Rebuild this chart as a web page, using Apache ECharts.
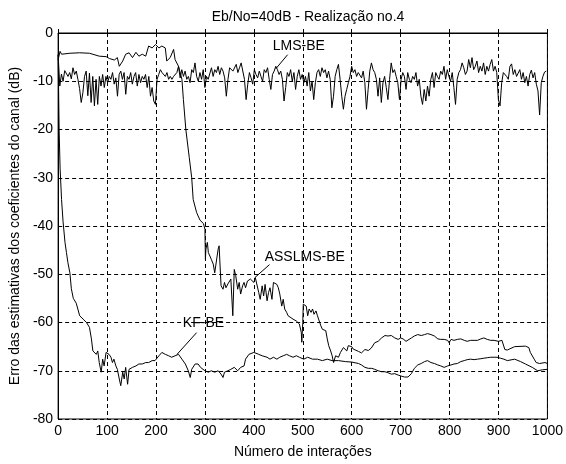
<!DOCTYPE html>
<html>
<head>
<meta charset="utf-8">
<script src="https://cdn.jsdelivr.net/npm/echarts@6/dist/echarts.min.js"></script>
<style>
html, body { margin: 0; padding: 0; background: #fff; }
#chart { width: 566px; height: 464px; }
</style>
</head>
<body>
<div id="chart"></div>
<script>
var titleText = 'Eb/No=40dB - Realização no.4';
var xName = 'Número de interações';
var yName = 'Erro das estimativas dos coeficientes do canal (dB)';

// LMS-BE: at a regular spacing of 3.37 iterations
var lmsStep = 3.37;
var lmsDb = [-4.5,
  -11, -8.5, -10, -7.8, -7.5, -9, -8.2, -9.5, -7.2, -8.6,
  -7.9, -9.6, -11.5, -14.4, -12.4, -9, -7.9, -13, -8.3, -14.4,
  -9, -15.1, -9.6, -14.8, -9, -11, -8.6, -11.3, -9, -10.3,
  -9, -9.6, -8.2, -10.6, -9.3, -13.1, -8.6, -7.9, -9.6, -8.2,
  -12.7, -9, -9.6, -8.2, -10.6, -9, -8.2, -11, -8.6, -10.3,
  -9, -9.6, -8.6, -11.3, -9, -13.1, -11.3, -14.1, -14.8, -9.6,
  -8.6, -7.6, -8.2, -7.9, -9, -8.2, -9.6, -9, -9.6, -9,
  -8.6, -8.2, -6.9, -9.3, -7.6, -9, -7.9, -9.6, -9, -10.3,
  -7.6, -8.2, -6.2, -9, -10, -8.2, -9.6, -7.6, -11.3, -9, -9.6,
  -9.6, -7.2, -9, -7.6, -8.2, -6.9, -8.6, -7.2, -7.9, -9.3,
  -13.1, -9.6, -7.2, -6.9, -7.9, -7.6, -6.5, -8.2, -7.2, -6.2,
  -5.8, -9.6, -13.8, -10.6, -8.2, -9.3, -10.6, -7.6, -8.6, -9.3,
  -7.9, -9, -10, -7.6, -8.2, -7.2, -9.6, -11.7, -8.6, -7.9,
  -6.9, -7.6, -8.6, -7.9, -9.6, -14.1, -11.3, -8.2, -9, -7.6,
  -10, -8.2, -11.7, -9, -7.6, -9.6, -8.6, -10.3, -9, -11,
  -8.2, -12, -10, -13.8, -10.3, -8.2, -7.6, -9, -7.2, -8.2,
  -7.6, -9.3, -7.9, -9.6, -15.5, -13.1, -9, -7.6, -6.5, -9.6,
  -13.1, -15.8, -13.1, -11.7, -10.3, -9, -6.9, -8.2, -7.6, -9, -8.2,
  -8.2, -9.3, -7.9, -10.3, -15.8, -11.7, -7.9, -6.2, -7.6, -8.2,
  -9.6, -13.1, -9.3, -14.4, -10.3, -9, -11.3, -13.8, -9.6, -6.2,
  -8.2, -7.6, -9, -10.3, -13.8, -9.6, -8.2, -9, -11.7, -8.2,
  -9.6, -10.3, -9, -9.6, -8.2, -11, -9.6, -13.1, -14.8, -11.7,
  -14.1, -11, -13.1, -9.6, -8.2, -11.3, -8.2, -9, -9.6, -7.9,
  -8.6, -6.9, -9.6, -7.6, -9, -10, -8.2, -11.3, -14.8, -9.6,
  -8.2, -7.6, -6.2, -7.2, -8.6, -7.9, -5.5, -7.2, -5.1, -7.6,
  -6.9, -5.8, -8.2, -6.9, -7.9, -6.2, -8.6, -6.9, -7.9, -6.5,
  -5.5, -7.9, -6.9, -8.2, -13.8, -15.1, -10.3, -8.2, -7.9, -9, -9.6,
  -6.9, -6.4, -8.6, -7.6, -9, -8.9, -7.6, -9.6, -8.2, -10.3,
  -9, -11, -8.6, -7.7, -9.3, -8.2, -10.6, -12, -17, -10.3,
  -9, -8.1, -7.9];

var asslmsIter = [0, 4, 7, 24, 44, 64, 84, 98, 105, 115, 121, 125, 132, 138, 145, 152, 159, 165, 172, 179,
  185, 192, 199, 206, 212, 219, 222, 229, 236, 239, 246, 253, 256, 261, 268, 273, 276, 283, 290, 297,
  300, 301, 302, 305, 307, 310, 313, 317, 320, 323, 327, 329, 331, 333, 337, 340, 343, 347, 353, 357,
  360, 363, 367, 370, 373, 377, 380, 383, 387, 393, 400, 403, 407, 410, 413, 417, 420, 423, 427, 430,
  433, 437, 440, 443, 447, 450, 453, 457, 460, 463, 467, 470, 473, 480, 487, 490, 493, 497, 498, 500,
  501, 507, 510, 513, 517, 520, 523, 527, 530, 533, 537, 540, 543, 547, 550, 553, 557, 560, 563, 567,
  570, 573, 577, 580, 583, 587, 590, 593, 597, 600, 603, 607, 614, 620, 627, 634, 640, 647, 654, 661,
  668, 674, 681, 688, 695, 700, 705, 711, 715, 722, 728, 735, 742, 749, 755, 762, 769, 776, 782, 789,
  796, 799, 803, 809, 816, 823, 830, 836, 843, 850, 857, 864, 870, 877, 884, 891, 900, 907, 911, 913,
  918, 922, 933, 955, 962, 965, 973, 977, 984, 995, 1000];
var asslmsDb = [-5.5, -3.8, -4.4, -4.2, -4.1, -4.2, -4.8, -4.9, -5.3, -5.6, -5.1, -6.9, -5.8, -4.4, -4.1, -5.1, -4.0, -4.8, -4.4, -4.8,
  -2.7, -3.1, -2.4, -3.1, -2.7, -3.1, -5.8, -5.1, -3.4, -5.5, -6.9, -9.6, -13.8, -20, -25.8, -30, -34.5, -37.2, -38.8, -39.5,
  -40.7, -46.9, -44.8, -43.4, -45.5, -45.2, -46.9, -47.9, -49.7, -50, -44.8, -44.1, -48.3, -52.4, -53.1, -51.7, -52.8, -52, -51, -58.6,
  -49, -50.3, -53.1, -51.7, -54.1, -52.4, -51.7, -52.8, -51.4, -51, -51.7, -50.7, -51, -53.8, -55.2, -52.4, -54.5, -52.1, -55.5, -53.8,
  -52.8, -55.2, -51.7, -51.4, -52.1, -52.8, -54.1, -56.6, -55.2, -57.2, -57.9, -58.6, -59, -59.3, -59.7, -60, -60.3, -62.1, -64.1, -60,
  -56.2, -56.6, -58.6, -57.2, -57.9, -57.2, -58.3, -57.6, -58.6, -59, -60.7, -61.4, -61, -61.7, -63.4, -64.8, -65.9, -66.9, -68.3, -66.9,
  -66.6, -67.2, -66.2, -65.9, -65.2, -65.5, -65.9, -64.8, -65.2, -65, -65.5, -65.2, -66, -66.3, -65.6, -65.8, -65.3, -64.2, -63.9, -63.2,
  -62.7, -62.8, -62.7, -63.2, -63.5, -63.2, -63.4, -63.9, -63.5, -63.2, -62.8, -62.5, -62.7, -62.5, -62.3, -62.5, -62.8, -63.4, -63.5, -63.5,
  -63.7, -64.2, -63.5, -63.7, -63.5, -63.4, -63.7, -63.9, -63.7, -63.7, -63.7, -63.4, -63.2, -63.5, -63.7, -63.7, -63.9, -63.7, -63.9, -65.6,
  -65.7, -65.6, -65, -64.9, -65.2, -66.2, -67.6, -68.3, -68.5, -68.3, -68.5];

var kfIter = [0, 1, 2, 4, 7, 10, 14, 17, 20, 24, 27, 31, 37, 44, 48, 51, 58, 64, 68, 71,
  78, 81, 84, 88, 91, 94, 98, 101, 104, 108, 111, 114, 118, 121, 125, 128, 132, 135, 138, 142,
  145, 152, 159, 165, 172, 179, 185, 192, 198, 206, 212, 219, 226, 232, 239, 246, 253, 260, 266, 270,
  273, 280, 286, 291, 300, 303, 307, 313, 320, 327, 333, 337, 340, 347, 353, 360, 367, 373, 380, 383,
  390, 400, 410, 417, 427, 433, 440, 447, 453, 460, 467, 473, 480, 487, 493, 502, 510, 520, 530, 540,
  550, 560, 573, 587, 600, 614, 620, 627, 634, 641, 647, 654, 661, 668, 674, 681, 688, 695, 701, 708,
  711, 715, 722, 728, 735, 742, 749, 755, 762, 769, 776, 782, 789, 796, 803, 809, 816, 823, 830, 836,
  843, 850, 857, 864, 870, 877, 884, 891, 897, 904, 911, 918, 922, 933, 945, 955, 969, 980, 990, 1000];
var kfDb = [-4.5, -12, -20, -28, -34.5, -39, -43.4, -45.5, -47.6, -49.7, -53, -55, -56, -58.6, -58.6, -59.3, -60, -61, -63.4, -65.9,
  -66.6, -65.9, -68.3, -70.3, -67.6, -69, -66.2, -65.9, -66.6, -67.2, -68.3, -67.6, -69, -69.7, -71.7, -73.1, -70.3, -71.7, -69.3, -72.8,
  -69.7, -69.3, -69, -68.6, -68.6, -68.3, -68.3, -67.9, -67.9, -66.9, -66.2, -66.6, -66.9, -67.2, -66.9, -66.6, -67.6, -68.6, -70, -71.4,
  -69.7, -68.6, -68.6, -69.3, -70, -70.3, -70.3, -70, -70.3, -70, -70.7, -71.4, -70.3, -70, -69.7, -69.3, -70, -69.3, -69, -67.6,
  -66.6, -66.2, -66.6, -66.9, -67.2, -67.6, -67.2, -67.6, -67.2, -66.9, -66.6, -66.9, -67.2, -66.9, -67.2, -67.6, -67.2, -67.6, -67.6, -67.9,
  -67.6, -67.9, -67.9, -68.1, -68.2, -68.5, -68.8, -69.3, -69.5, -69.5, -69.7, -70, -70.2, -70.2, -70.4, -70.7, -70.6, -70.9, -71.1, -71.3,
  -71.6, -71.3, -70.6, -69.5, -68.8, -68.5, -68.1, -67.9, -68.3, -68.5, -68.8, -69, -69.3, -69, -68.8, -68.6, -68.5, -68.1, -67.9, -67.7,
  -67.6, -67.7, -67.6, -67.5, -67.4, -67.3, -67.2, -67.2, -67.2, -67.4, -67.6, -67.9, -67.9, -67.6, -68.1, -68.6, -69.3, -70, -69.8, -69.7];

// label text, text position, and the point its leader line touches
var notes = [
  { text: 'LMS-BE',    at: [492, -2.8],  from: [469, -4.5],  to: [445, -7.4] },
  { text: 'ASSLMS-BE', at: [504, -46.5], from: [432, -48],   to: [402, -50.7] },
  { text: 'KF-BE',     at: [297, -60.1], from: [283, -62.1], to: [243, -66.6] }
];

var FONT = 'Liberation Sans, Arial, Helvetica, sans-serif';

function pairs(xs, ys) {
  return ys.map(function (v, i) { return [xs[i], v]; });
}
var lmsData = lmsDb.map(function (v, i) { return [i * lmsStep, v]; });

var dashed = { show: true, lineStyle: { color: '#000', type: [4, 3], width: 1 } };
var labelStyle = { color: '#000', fontFamily: FONT, fontSize: 14 };
var plain = function (v) { return String(v); };

var chart = echarts.init(document.getElementById('chart'));
chart.setOption({
  animation: false,
  backgroundColor: '#fff',
  title: {
    text: titleText,
    left: 303,
    top: 5,
    textAlign: 'center',
    textStyle: { color: '#000', fontFamily: FONT, fontSize: 14, fontWeight: 'normal' }
  },
  grid: { left: 56, right: 15, top: 33, bottom: 44, show: true, borderColor: '#000', borderWidth: 1 },
  xAxis: {
    type: 'value', min: 0, max: 1000, interval: 100,
    name: xName, nameLocation: 'middle', nameGap: 26,
    nameTextStyle: labelStyle,
    axisLine: { lineStyle: { color: '#000', width: 1 } },
    axisTick: { inside: true, length: 4, lineStyle: { color: '#000' } },
    axisLabel: Object.assign({ margin: 5, formatter: plain }, labelStyle),
    splitLine: dashed
  },
  yAxis: {
    type: 'value', min: -80, max: 0, interval: 10,
    name: yName, nameLocation: 'middle', nameGap: 34,
    nameTextStyle: labelStyle,
    axisLine: { show: true, lineStyle: { color: '#000', width: 1 } },
    axisTick: { show: true, inside: true, length: 4, lineStyle: { color: '#000' } },
    axisLabel: Object.assign({ margin: 5, formatter: plain }, labelStyle),
    splitLine: dashed
  },
  series: [
    { name: 'LMS-BE', type: 'line', data: lmsData, showSymbol: false, symbol: 'none',
      lineStyle: { color: '#000', width: 1 } },
    { name: 'ASSLMS-BE', type: 'line', data: pairs(asslmsIter, asslmsDb), showSymbol: false, symbol: 'none',
      lineStyle: { color: '#000', width: 1 } },
    { name: 'KF-BE', type: 'line', data: pairs(kfIter, kfDb), showSymbol: false, symbol: 'none',
      lineStyle: { color: '#000', width: 1 } }
  ]
});

// annotations placed in data coordinates
var els = [];
notes.forEach(function (n) {
  var p = chart.convertToPixel({ gridIndex: 0 }, n.at);
  var a = chart.convertToPixel({ gridIndex: 0 }, n.from);
  var b = chart.convertToPixel({ gridIndex: 0 }, n.to);
  els.push({ type: 'line', shape: { x1: a[0], y1: a[1], x2: b[0], y2: b[1] },
    style: { stroke: '#000', lineWidth: 1 }, z: 10 });
  els.push({ type: 'text', x: p[0], y: p[1], z: 10,
    style: { text: n.text, fill: '#000', font: '14px ' + FONT, align: 'center', verticalAlign: 'middle' } });
});
chart.setOption({ graphic: els });
</script>
</body>
</html>
